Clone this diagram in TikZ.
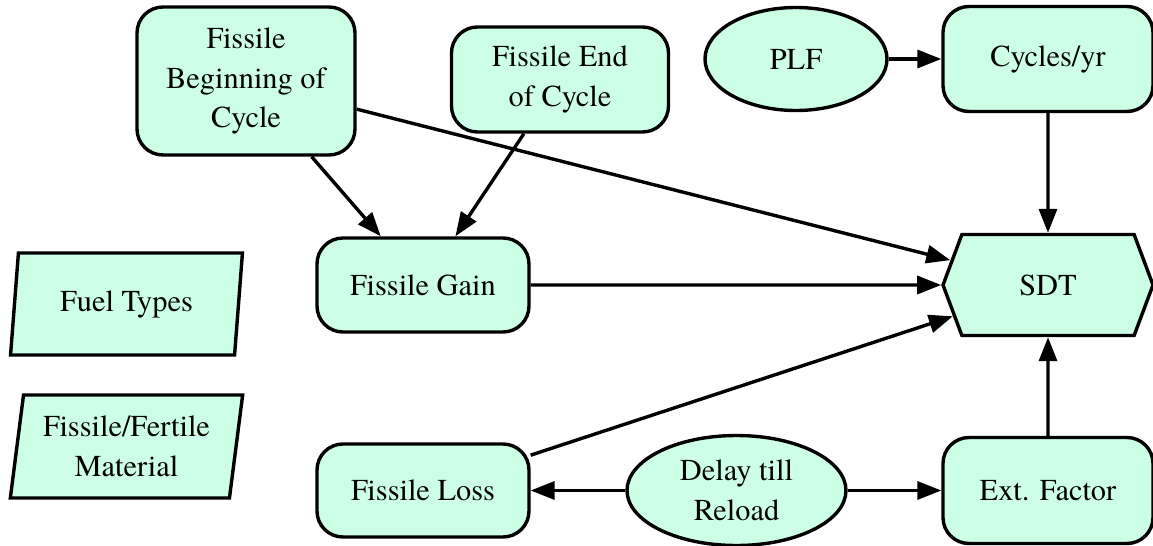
\documentclass[tikz,border=0pt]{standalone}
\usepackage{fontspec}
\setmainfont{texgyretermes-regular.otf}
\usetikzlibrary{arrows.meta,shapes.geometric,shapes.symbols}
\definecolor{mint}{RGB}{204,255,230}
\begin{document}
\begin{tikzpicture}[x=0.5pt, y=-0.5pt,
    base/.style={draw, fill=mint, line width=1.7pt, align=center, inner sep=0pt,
      font=\fontsize{15.2}{19.8}\selectfont},
    box/.style={base, rectangle, rounded corners=13pt},
    oval/.style={base, ellipse},
    slant/.style={base, trapezium, trapezium left angle=80, trapezium right angle=100,
      trapezium stretches=true},
    hexa/.style={base, signal, signal to=east and west, signal pointer angle=139},
    edge/.style={line width=1.7pt, -{Triangle[length=12pt,width=9pt]}}]
    \useasboundingbox (0,0) rectangle (1153,546);

    \draw (246, 81) node[box, minimum width=109pt, minimum height=74pt](fb){Fissile\\Beginning of\\Cycle}
       (560, 79.5) node[box, minimum width=108.5pt, minimum height=52.5pt](fe){Fissile End\\of Cycle}
       (796, 59) node[oval, minimum width=91pt, minimum height=51.5pt](plf){PLF}
       (1048, 59) node[box, minimum width=105pt, minimum height=52.5pt](cyc){Cycles/yr}
       (1048, 285) node[hexa, minimum width=105pt, minimum height=50.5pt](sdt){SDT}
       (423, 285) node[box, minimum width=106pt, minimum height=47pt](gain){Fissile Gain}
       (126.5, 304) node[slant, minimum width=116.5pt, minimum height=51pt](fuel){Fuel Types}
       (126.5, 446.5) node[slant, minimum width=116.5pt, minimum height=51.5pt](fert){Fissile/Fertile\\Material}
       (423, 490.5) node[box, minimum width=106pt, minimum height=46.5pt](loss){Fissile Loss}
       (736.5, 490.5) node[oval, minimum width=109.5pt, minimum height=55pt](delay){Delay till\\Reload}
       (1048, 490.5) node[box, minimum width=105pt, minimum height=53pt](ext){Ext. Factor};

    \draw[edge] (plf) -- (cyc);
    \draw[edge] (cyc) -- (sdt);
    \draw[edge] (fb) -- (sdt);
    \draw[edge] (fb) -- (gain);
    \draw[edge] (fe) -- (gain);
    \draw[edge] (gain) -- (sdt);
    \draw[edge] (loss) -- (sdt);
    \draw[edge] (delay) -- (loss);
    \draw[edge] (delay) -- (ext);
    \draw[edge] (ext) -- (sdt);
\end{tikzpicture}
\end{document}
